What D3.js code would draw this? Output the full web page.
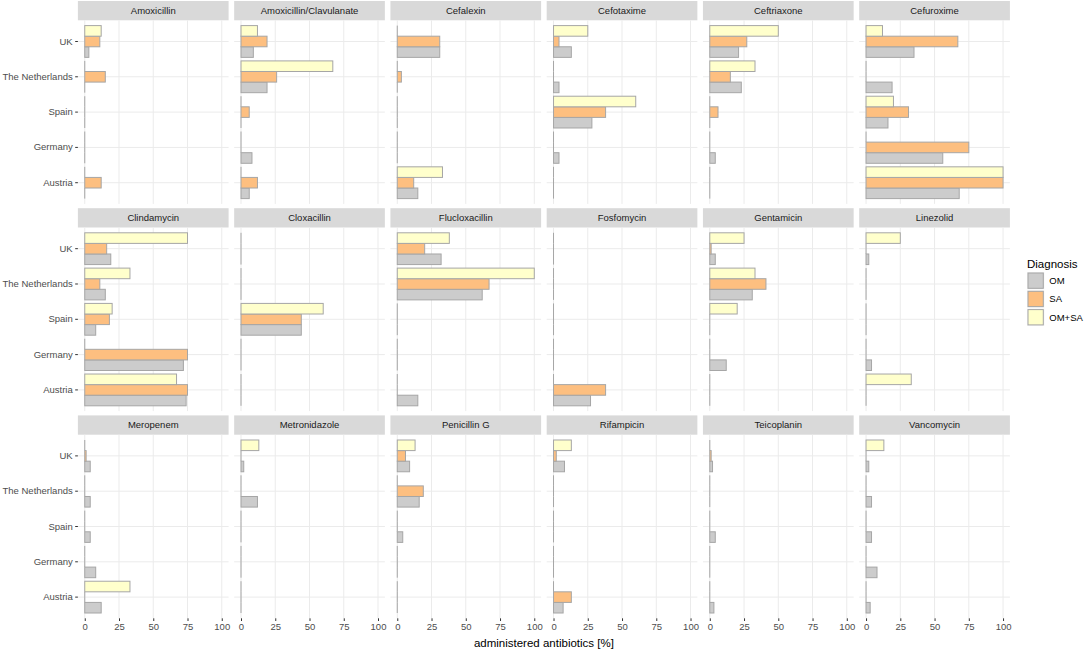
<!DOCTYPE html>
<html>
<head>
<meta charset="utf-8">
<script src="https://cdn.jsdelivr.net/npm/d3@7"></script>
<style>
  body { margin: 0; background: #fff; }
  text { font-family: "Liberation Sans", Arial, sans-serif; }
</style>
</head>
<body>
<div id="chart"></div>
<script>
// data, [%], countries in order UK, NL, Spain, Germany, Austria
var antibiotics = ["Amoxicillin", "Amoxicillin/Clavulanate", "Cefalexin", "Cefotaxime", "Ceftriaxone", "Cefuroxime",
  "Clindamycin", "Cloxacillin", "Flucloxacillin", "Fosfomycin", "Gentamicin", "Linezolid",
  "Meropenem", "Metronidazole", "Penicillin G", "Rifampicin", "Teicoplanin", "Vancomycin"];
var countries = ["UK", "The Netherlands", "Spain", "Germany", "Austria"];
var diagnoses = ["OM", "SA", "OM+SA"];
var xTicks = [0, 25, 50, 75, 100];

var omValues = [
  [3, 0, 0, 0, 0], [9, 19, 0, 8, 6], [31, 0, 0, 0, 15], [13, 4, 28, 4, 0], [21, 23, 0, 4, 0], [35, 19, 16, 56, 68],
  [19, 15, 8, 72, 74], [0, 0, 44, 0, 0], [32, 62, 0, 0, 15], [0, 0, 0, 0, 27], [4, 31, 0, 12, 0], [2, 0, 0, 4, 0],
  [4, 4, 4, 8, 12], [2, 12, 0, 0, 0], [9, 16, 4, 0, 0], [8, 0, 0, 0, 7], [2, 0, 4, 0, 3], [2, 4, 4, 8, 3]
];
var saValues = [
  [11, 15, 0, 0, 12], [19, 26, 6, 0, 12], [31, 3, 0, 0, 12], [4, 0, 38, 0, 0], [27, 15, 6, 0, 0], [67, 0, 31, 75, 100],
  [16, 11, 18, 75, 75], [0, 0, 44, 0, 0], [20, 67, 0, 0, 0], [0, 0, 0, 0, 38], [1, 41, 0, 0, 0], [0, 0, 0, 0, 0],
  [1, 0, 0, 0, 0], [0, 0, 0, 0, 0], [6, 19, 0, 0, 0], [2, 0, 0, 0, 13], [1, 0, 0, 0, 0], [0, 0, 0, 0, 0]
];
var omsaValues = [
  [12, 0, 0, 0, 0], [12, 67, 0, 0, 0], [0, 0, 0, 0, 33], [25, 0, 60, 0, 0], [50, 33, 0, 0, 0], [12, 0, 20, 0, 100],
  [75, 33, 20, 0, 67], [0, 0, 60, 0, 0], [38, 100, 0, 0, 0], [0, 0, 0, 0, 0], [25, 33, 20, 0, 0], [25, 0, 0, 0, 33],
  [0, 0, 0, 0, 33], [13, 0, 0, 0, 0], [13, 0, 0, 0, 0], [13, 0, 0, 0, 0], [0, 0, 0, 0, 0], [13, 0, 0, 0, 0]
];

var colors = ["#cccccc", "#fdbf80", "#ffffcc"];
var outline = "#a6a6a6";

var width = 1084, height = 656;
var nCols = 6;
var left = 77.9, colStep = 156.26, panelW = 150.7;
var top0 = 1, stripH = 19.3, panelH = 183.6, rowStep = 207.2;

var svg = d3.select("#chart")
  .append("svg")
  .attr("width", width)
  .attr("height", height)
  .style("background", "#fff");

var x = d3.scaleLinear().domain([-5, 105]).range([0, panelW]);
var y = d3.scaleBand().domain(countries).range([0, panelH]).paddingInner(0).paddingOuter(0.1);
var sub = d3.scaleBand().domain(["OM+SA", "SA", "OM"])
  .range([y.bandwidth() * 0.05, y.bandwidth() * 0.95]);
var color = d3.scaleOrdinal().domain(diagnoses).range(colors);

var seriesByDiag = { "OM": omValues, "SA": saValues, "OM+SA": omsaValues };

antibiotics.forEach(function(ab, i) {
  var col = i % nCols, row = Math.floor(i / nCols);
  var px = left + col * colStep;
  var sy = top0 + row * rowStep;
  var py = sy + stripH;

  // strip
  svg.append("rect")
    .attr("x", px).attr("y", sy)
    .attr("width", panelW).attr("height", stripH)
    .attr("fill", "#d9d9d9");
  svg.append("text")
    .attr("x", px + panelW / 2).attr("y", sy + stripH / 2)
    .attr("dy", "0.35em")
    .attr("text-anchor", "middle")
    .attr("font-size", "9.5px")
    .attr("fill", "#1a1a1a")
    .text(ab);

  var g = svg.append("g").attr("transform", "translate(" + px + "," + py + ")");

  // grid
  g.selectAll(".vgrid").data(xTicks).enter().append("line")
    .attr("x1", function(d) { return x(d); }).attr("x2", function(d) { return x(d); })
    .attr("y1", 0).attr("y2", panelH)
    .attr("stroke", "#ebebeb").attr("stroke-width", 1);
  g.selectAll(".hgrid").data(countries).enter().append("line")
    .attr("x1", 0).attr("x2", panelW)
    .attr("y1", function(d) { return y(d) + y.bandwidth() / 2; })
    .attr("y2", function(d) { return y(d) + y.bandwidth() / 2; })
    .attr("stroke", "#ebebeb").attr("stroke-width", 1);

  var bars = [];
  countries.forEach(function(c, j) {
    diagnoses.forEach(function(dg) {
      bars.push({ country: c, diagnosis: dg, value: seriesByDiag[dg][i][j] });
    });
  });

  // zero values show only as an outline at 0
  g.selectAll(".zero").data(bars.filter(function(d) { return d.value === 0; }))
    .enter().append("line")
    .attr("x1", x(0)).attr("x2", x(0))
    .attr("y1", function(d) { return y(d.country) + sub(d.diagnosis); })
    .attr("y2", function(d) { return y(d.country) + sub(d.diagnosis) + sub.bandwidth(); })
    .attr("stroke", outline).attr("stroke-width", 1);

  g.selectAll(".bar").data(bars.filter(function(d) { return d.value > 0; }))
    .enter().append("rect")
    .attr("x", x(0))
    .attr("y", function(d) { return y(d.country) + sub(d.diagnosis); })
    .attr("width", function(d) { return x(d.value) - x(0); })
    .attr("height", sub.bandwidth())
    .attr("fill", function(d) { return color(d.diagnosis); })
    .attr("stroke", outline).attr("stroke-width", 1);

  if (col === 0) {
    var ya = g.append("g").call(d3.axisLeft(y).tickSize(2.7).tickPadding(2.5));
    ya.select(".domain").remove();
    ya.selectAll("line").attr("stroke", "#333");
    ya.selectAll("text").attr("fill", "#4d4d4d").attr("font-size", "9.5px")
      .style("font-family", "'Liberation Sans', Arial, sans-serif");
  }
  if (row === 2) {
    var xa = g.append("g").attr("transform", "translate(0," + panelH + ")")
      .call(d3.axisBottom(x).tickValues(xTicks).tickSize(2.7).tickPadding(2.5));
    xa.select(".domain").remove();
    xa.selectAll("line").attr("stroke", "#333");
    xa.selectAll("text").attr("fill", "#4d4d4d").attr("font-size", "9.5px")
      .style("font-family", "'Liberation Sans', Arial, sans-serif");
  }
});

// axis title
svg.append("text")
  .attr("x", left + (5 * colStep + panelW) / 2)
  .attr("y", 647)
  .attr("text-anchor", "middle")
  .attr("font-size", "11.5px")
  .attr("fill", "#000")
  .text("administered antibiotics [%]");

// legend
var lx = 1027, ly = 272, key = 17.3;
svg.append("text")
  .attr("x", lx).attr("y", ly - 4)
  .attr("font-size", "11.5px")
  .attr("fill", "#000")
  .text("Diagnosis");

var legend = svg.selectAll(".legend").data(diagnoses).enter().append("g")
  .attr("transform", function(d, i) { return "translate(" + lx + "," + (ly + i * (key + 1)) + ")"; });
legend.append("rect")
  .attr("width", key).attr("height", key)
  .attr("fill", "#f2f2f2");
legend.append("rect")
  .attr("x", 1).attr("y", 1)
  .attr("width", key - 2).attr("height", key - 2)
  .attr("fill", function(d) { return color(d); })
  .attr("stroke", outline).attr("stroke-width", 1);
legend.append("text")
  .attr("x", key + 5).attr("y", key / 2)
  .attr("dy", "0.35em")
  .attr("font-size", "9.5px")
  .attr("fill", "#000")
  .text(function(d) { return d; });
</script>
</body>
</html>
